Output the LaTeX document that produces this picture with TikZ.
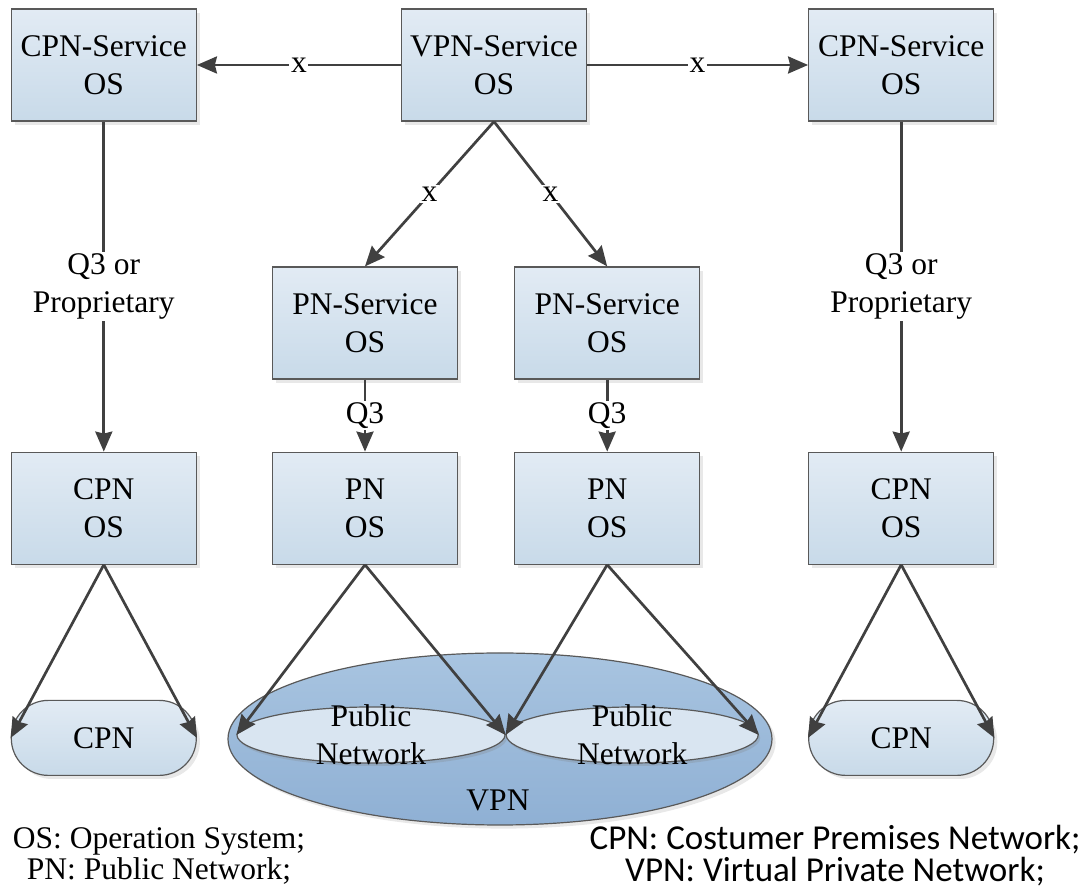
\documentclass[tikz,border=0pt]{standalone}
\usepackage{fontspec}
\setmainfont{Liberation Serif}
\newfontfamily\legendfont{Carlito}
\usepackage{tikz}
\usetikzlibrary{shapes.geometric,arrows.meta,positioning,shadows}

\definecolor{boxTop}{HTML}{E2EBF4}
\definecolor{boxBottom}{HTML}{C8DAE9}
\definecolor{borderGray}{HTML}{595959}
\definecolor{lineGray}{HTML}{404040}
\definecolor{vpnTop}{HTML}{A8C4E0}
\definecolor{vpnBottom}{HTML}{8FB0D4}
\definecolor{netFill}{HTML}{D9E5F1}

\begin{document}
\begin{tikzpicture}[
    x=0.5pt, y=-0.5pt,
    font=\fontsize{15.75}{19}\selectfont,
    osBox/.style={
        rectangle, draw=borderGray, line width=0.6pt,
        top color=boxTop, bottom color=boxBottom,
        minimum width=92.5pt, minimum height=56pt, inner sep=0pt, align=center,
        drop shadow={opacity=0.18, shadow xshift=1.8pt, shadow yshift=-1.8pt}
    },
    cpnNet/.style={
        rectangle, rounded corners=18.5pt, draw=borderGray, line width=0.6pt,
        top color=boxTop, bottom color=boxBottom,
        minimum width=92.5pt, minimum height=37.5pt, inner sep=0pt,
        drop shadow={opacity=0.18, shadow xshift=1.8pt, shadow yshift=-1.8pt}
    },
    vpnCloud/.style={
        ellipse, draw=borderGray, line width=0.6pt,
        top color=vpnTop, bottom color=vpnBottom,
        minimum width=272pt, minimum height=86pt, inner sep=0pt,
        drop shadow={opacity=0.18, shadow xshift=1.8pt, shadow yshift=-1.8pt}
    },
    pubNet/.style={
        ellipse, draw=borderGray, line width=0.6pt, fill=netFill,
        minimum height=28pt, inner sep=0pt,
        drop shadow={opacity=0.25, shadow xshift=1pt, shadow yshift=-1.5pt}
    },
    netText/.style={align=center, inner sep=0pt},
    ifArrow/.style={
        -{Stealth[length=10pt, width=8.5pt, inset=1pt]}, line width=1.35pt, draw=lineGray
    },
    ifLabel/.style={fill=white, inner sep=0.8pt, align=center}
]
\useasboundingbox (0,0) rectangle (1089,892);

% Management layer (top)
\node[osBox] (vpnSrv) at (494,65) {VPN-Service\\OS};
\node[osBox, left=102pt of vpnSrv] (cpnSrvL) {CPN-Service\\OS};
\node[osBox, right=110.5pt of vpnSrv] (cpnSrvR) {CPN-Service\\OS};

% Public network service layer
\node[osBox] (pnSrvL) at (365,323) {PN-Service\\OS};
\node[osBox, right=28pt of pnSrvL] (pnSrvR) {PN-Service\\OS};

% Element OS layer
\node[osBox, below=165pt of cpnSrvL] (cpnOsL) {CPN\\OS};
\node[osBox, below=36pt of pnSrvL] (pnOsL) {PN\\OS};
\node[osBox, below=36pt of pnSrvR] (pnOsR) {PN\\OS};
\node[osBox, below=165pt of cpnSrvR] (cpnOsR) {CPN\\OS};

% Networks
\node[cpnNet, below=67.5pt of cpnOsL] (cpnL) {CPN};
\node[cpnNet, below=67.5pt of cpnOsR] (cpnR) {CPN};

\node[vpnCloud] (vpn) at (500,739) {};
\node[pubNet, minimum width=134pt, label={[netText]center:{Public\\Network}}] (pubL) at (371,735) {};
\node[pubNet, minimum width=126pt, right=0pt of pubL, label={[netText]center:{Public\\Network}}] (pubR) {};
\node (vpnText) at (498,800) {VPN};

% Interfaces
\draw[ifArrow] (vpnSrv.west) -- node[ifLabel] {x} (cpnSrvL.east);
\draw[ifArrow] (vpnSrv.east) -- node[ifLabel] {x} (cpnSrvR.west);
\draw[ifArrow] (vpnSrv.south) -- node[ifLabel] {x} (pnSrvL.north);
\draw[ifArrow] (vpnSrv.south) -- node[ifLabel] {x} (pnSrvR.north);

\draw[ifArrow] (cpnSrvL) -- node[ifLabel] {Q3 or\\Proprietary} (cpnOsL);
\draw[ifArrow] (cpnSrvR) -- node[ifLabel] {Q3 or\\Proprietary} (cpnOsR);
\draw[ifArrow] (pnSrvL) -- node[ifLabel] {Q3} (pnOsL);
\draw[ifArrow] (pnSrvR) -- node[ifLabel] {Q3} (pnOsR);

% Fan-out to the managed networks
\foreach \os/\net in {cpnOsL/cpnL, pnOsL/pubL, pnOsR/pubR, cpnOsR/cpnR} {
    \draw[ifArrow] (\os.south) -- (\net.west);
    \draw[ifArrow] (\os.south) -- (\net.east);
}

% Legend
\node[align=center, font=\fontsize{15.75}{15.5}\selectfont] (legendL) at (159,856) {OS: Operation System;\\PN: Public Network;};
\node[align=center, font=\legendfont\fontsize{17.5}{16}\selectfont] (legendR) at (835,856) {CPN: Costumer Premises Network;\\VPN: Virtual Private Network;};

\end{tikzpicture}
\end{document}
